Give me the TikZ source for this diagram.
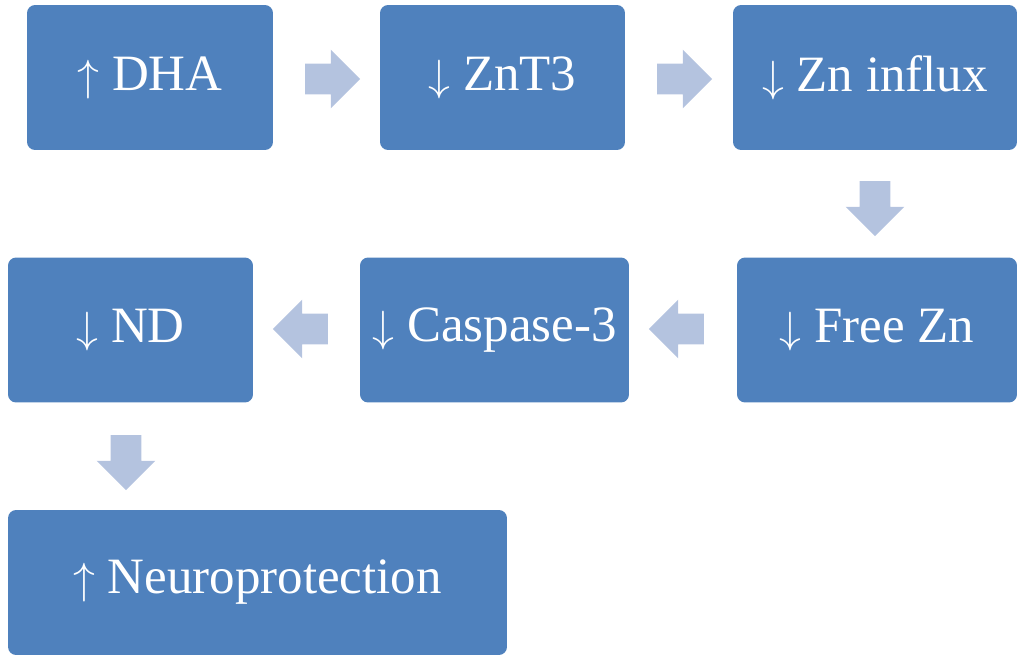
\documentclass[tikz,border=0pt]{standalone}
\usepackage{fontspec}
\setmainfont{Liberation Serif}
\usetikzlibrary{shapes.arrows}
\definecolor{boxblue}{HTML}{4F81BD}
\definecolor{arrowblue}{HTML}{B4C3DF}
\begin{document}
\begin{tikzpicture}[x=0.02cm, y=-0.02cm,
    stage/.style={rectangle, rounded corners=0.16cm, fill=boxblue, text=white,
        font=\fontsize{29}{34}\selectfont, minimum height=2.9cm, inner sep=0pt},
    flow/.style={single arrow, fill=arrowblue, inner sep=0.3cm,
        minimum width=1.15cm, minimum height=1.1cm, single arrow head extend=0.28cm}
]
\useasboundingbox (0,0) rectangle (1024,660);

% Kaesten
\node[stage, minimum width=4.92cm] (dha) at (150,77.5) {$\uparrow$ DHA};
\node[stage, minimum width=4.9cm] (znt) at (502.5,77.5) {$\downarrow$ ZnT3};
\node[stage, minimum width=5.68cm] (influx) at (875,77.5) {$\downarrow$ Zn influx};
\node[stage, minimum width=5.6cm] (free) at (877,330) {$\downarrow$ Free Zn};
\node[stage, minimum width=5.38cm] (casp) at (494.5,330) {$\downarrow$ Caspase-3};
\node[stage, minimum width=4.9cm] (nd) at (130.5,330) {$\downarrow$ ND};
\node[stage, minimum width=9.98cm] (neuro) at (257.5,582.5) {$\uparrow$ Neuroprotection};

% Pfeile
\node[flow] (a1) at (325,79) {};
\node[flow] (a2) at (677,79) {};
\node[flow, rotate=-90] (a3) at (875,201) {};
\node[flow, rotate=180] (a4) at (684,329) {};
\node[flow, rotate=180] (a5) at (308,329) {};
\node[flow, rotate=-90] (a6) at (126,455) {};

\end{tikzpicture}
\end{document}
